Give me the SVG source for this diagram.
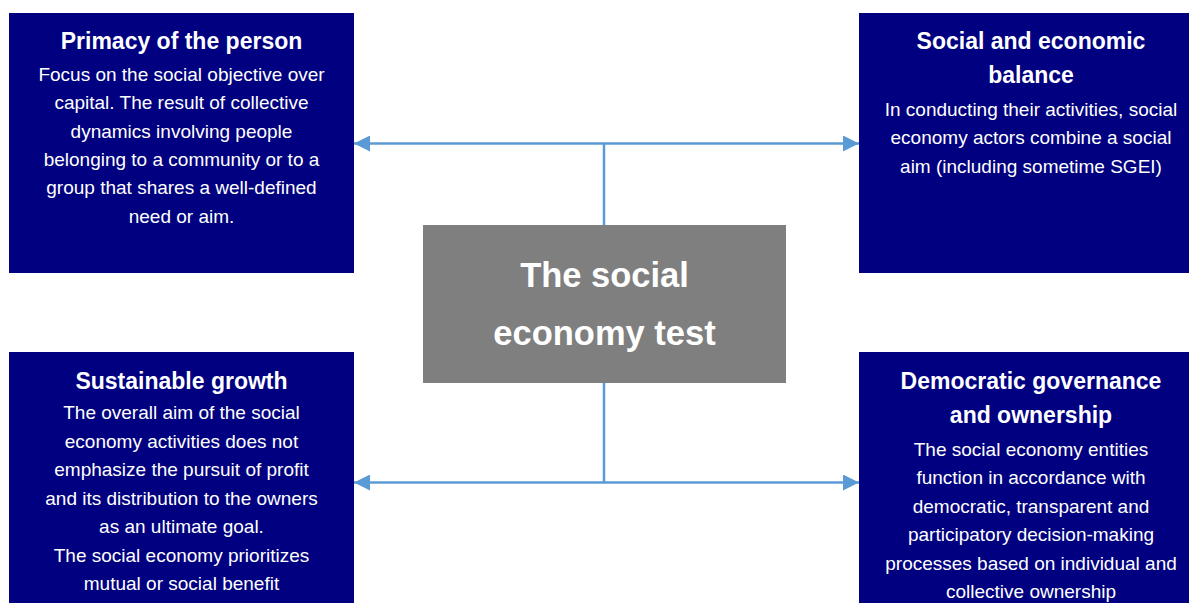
<svg xmlns="http://www.w3.org/2000/svg" width="1189" height="603" viewBox="0 0 1189 603">
<style>
.box{fill:#000080}
.center{fill:#7F7F7F}
.t{font-family:"Liberation Sans",Arial,sans-serif;font-weight:bold;font-size:23px;fill:#fff;text-anchor:middle}
.b{font-family:"Liberation Sans",Arial,sans-serif;font-size:19px;fill:#fff;text-anchor:middle}
.c{font-family:"Liberation Sans",Arial,sans-serif;font-weight:bold;font-size:34.5px;fill:#fff;text-anchor:middle}
.ln{stroke:#5B9BD5;stroke-width:2.5;fill:none}
</style>
<defs>
<marker id="ah" viewBox="0 0 16 16" refX="16" refY="8" markerWidth="16" markerHeight="16" markerUnits="userSpaceOnUse" orient="auto-start-reverse">
<path d="M0,0 L16,8 L0,16 Z" fill="#5B9BD5"/>
</marker>
</defs>
<g id="connectors">
<line class="ln" x1="354" y1="143.5" x2="859" y2="143.5" marker-start="url(#ah)" marker-end="url(#ah)"/>
<line class="ln" x1="354" y1="482.5" x2="859" y2="482.5" marker-start="url(#ah)" marker-end="url(#ah)"/>
<line class="ln" x1="604" y1="143.5" x2="604" y2="225"/>
<line class="ln" x1="604" y1="383" x2="604" y2="482.5"/>
</g>
<g id="primacy">
<rect class="box" x="9" y="13" width="345" height="260"/>
<text class="t" x="181.5" y="49">Primacy of the person</text>
<text class="b" x="181.5" y="80.5">Focus on the social objective over</text>
<text class="b" x="181.5" y="109">capital. The result of collective</text>
<text class="b" x="181.5" y="137.5">dynamics involving people</text>
<text class="b" x="181.5" y="166">belonging to a community or to a</text>
<text class="b" x="181.5" y="194">group that shares a well-defined</text>
<text class="b" x="181.5" y="222.5">need or aim.</text>
</g>
<g id="balance">
<rect class="box" x="859" y="13" width="344" height="260"/>
<text class="t" x="1031" y="49">Social and economic</text>
<text class="t" x="1031" y="83">balance</text>
<text class="b" x="1031" y="115.5">In conducting their activities, social</text>
<text class="b" x="1031" y="144">economy actors combine a social</text>
<text class="b" x="1031" y="172.5">aim (including sometime SGEI)</text>
</g>
<g id="center">
<rect class="center" x="423" y="225" width="363" height="158"/>
<text class="c" x="604.5" y="287">The social</text>
<text class="c" x="604.5" y="345">economy test</text>
</g>
<g id="growth">
<rect class="box" x="9" y="352" width="345" height="260"/>
<text class="t" x="181.5" y="389">Sustainable growth</text>
<text class="b" x="181.5" y="419">The overall aim of the social</text>
<text class="b" x="181.5" y="448">economy activities does not</text>
<text class="b" x="181.5" y="476">emphasize the pursuit of profit</text>
<text class="b" x="181.5" y="504.5">and its distribution to the owners</text>
<text class="b" x="181.5" y="533">as an ultimate goal.</text>
<text class="b" x="181.5" y="561.5">The social economy prioritizes</text>
<text class="b" x="181.5" y="590">mutual or social benefit</text>
</g>
<g id="governance">
<rect class="box" x="859" y="352" width="344" height="260"/>
<text class="t" x="1031" y="389">Democratic governance</text>
<text class="t" x="1031" y="423">and ownership</text>
<text class="b" x="1031" y="455.5">The social economy entities</text>
<text class="b" x="1031" y="484">function in accordance with</text>
<text class="b" x="1031" y="512.5">democratic, transparent and</text>
<text class="b" x="1031" y="541">participatory decision-making</text>
<text class="b" x="1031" y="569.5">processes based on individual and</text>
<text class="b" x="1031" y="598">collective ownership</text>
</g>
</svg>
